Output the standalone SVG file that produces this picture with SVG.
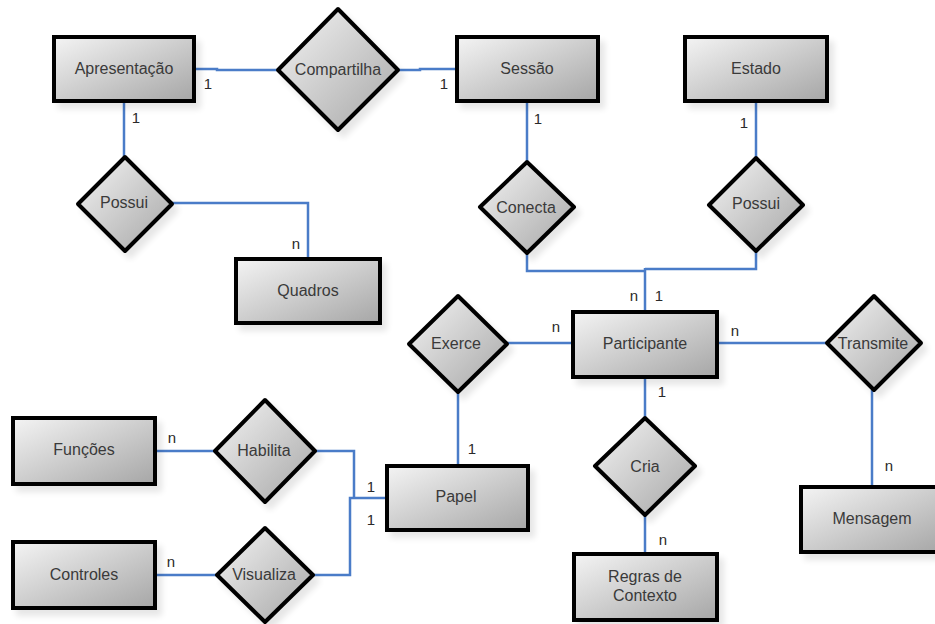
<svg xmlns="http://www.w3.org/2000/svg" width="935" height="624" viewBox="0 0 935 624">
<defs>
<linearGradient id="g" x1="0" y1="0" x2="1" y2="1">
<stop offset="0" stop-color="#f4f4f4"/>
<stop offset="1" stop-color="#a6a6a6"/>
</linearGradient>
<filter id="sh" x="-20%" y="-20%" width="150%" height="150%">
<feGaussianBlur in="SourceAlpha" stdDeviation="3"/>
<feOffset dx="5" dy="6" result="b"/>
<feComponentTransfer><feFuncA type="linear" slope="0.1"/></feComponentTransfer>
<feMerge><feMergeNode/><feMergeNode in="SourceGraphic"/></feMerge>
</filter>
</defs>
<style>
.e{fill:url(#g);stroke:#000;stroke-width:4;stroke-linejoin:round;filter:url(#sh)}
.r{fill:url(#g);stroke:#000;stroke-width:4;stroke-linejoin:miter;filter:url(#sh)}
.t{font-family:"Liberation Sans",Arial,sans-serif;font-size:16px;fill:#3a3a3a;text-anchor:middle}
.c{fill:none;stroke:#4a7cc8;stroke-width:2.5}
.l{font-family:"Liberation Sans",Arial,sans-serif;font-size:15px;fill:#2a2a2a;text-anchor:middle}
</style>
<rect width="935" height="624" fill="#fff"/>
<g id="connectors">
<polyline class="c" points="195,69 217,69 217,70 278,70"/>
<polyline class="c" points="398,70 420,70 420,69 457,69"/>
<line class="c" x1="124" y1="102" x2="124" y2="157"/>
<polyline class="c" points="172,203 308,203 308,258"/>
<line class="c" x1="527" y1="102" x2="527" y2="162"/>
<line class="c" x1="756" y1="102" x2="756" y2="158"/>
<polyline class="c" points="527,253 527,271 645,271"/>
<polyline class="c" points="756,251 756,269 645,269"/>
<line class="c" x1="645" y1="268" x2="645" y2="312"/>
<line class="c" x1="507" y1="343" x2="573" y2="343"/>
<line class="c" x1="717" y1="343" x2="827" y2="343"/>
<line class="c" x1="872" y1="390" x2="872" y2="487"/>
<line class="c" x1="645" y1="378" x2="645" y2="418"/>
<line class="c" x1="645" y1="515" x2="645" y2="554"/>
<line class="c" x1="458" y1="392" x2="458" y2="466"/>
<line class="c" x1="155" y1="451" x2="215" y2="451"/>
<line class="c" x1="155" y1="575" x2="217" y2="575"/>
<polyline class="c" points="315,451 354,451 354,498"/>
<polyline class="c" points="313,575 350,575 350,498 387,498"/>
</g>
<g id="labels">
<text class="l" x="208" y="89">1</text>
<text class="l" x="444" y="89">1</text>
<text class="l" x="136" y="123">1</text>
<text class="l" x="296" y="249">n</text>
<text class="l" x="538" y="124">1</text>
<text class="l" x="744" y="128">1</text>
<text class="l" x="634" y="301">n</text>
<text class="l" x="659" y="301">1</text>
<text class="l" x="556" y="332">n</text>
<text class="l" x="735" y="336">n</text>
<text class="l" x="662" y="397">1</text>
<text class="l" x="663" y="545">n</text>
<text class="l" x="889" y="471">n</text>
<text class="l" x="472" y="454">1</text>
<text class="l" x="172" y="443">n</text>
<text class="l" x="171" y="567">n</text>
<text class="l" x="371" y="492">1</text>
<text class="l" x="371" y="525">1</text>
</g>
<g id="apresentacao"><rect class="r" x="54" y="37" width="140" height="64"/><text class="t" x="124" y="74">Apresentação</text></g>
<g id="compartilha"><polygon class="e" points="338,9 398,70 338,130 278,70"/><text class="t" x="338" y="75">Compartilha</text></g>
<g id="sessao"><rect class="r" x="457" y="37" width="141" height="64"/><text class="t" x="527" y="74">Sessão</text></g>
<g id="estado"><rect class="r" x="685" y="37" width="142" height="64"/><text class="t" x="756" y="74">Estado</text></g>
<g id="possui1"><polygon class="e" points="125,157 172,204 125,251 78,204"/><text class="t" x="124" y="208">Possui</text></g>
<g id="quadros"><rect class="r" x="236" y="259" width="144" height="64"/><text class="t" x="308" y="296">Quadros</text></g>
<g id="conecta"><polygon class="e" points="527,162 574,207 527,253 480,207"/><text class="t" x="526" y="213">Conecta</text></g>
<g id="possui2"><polygon class="e" points="756,158 803,205 756,251 709,205"/><text class="t" x="756" y="209">Possui</text></g>
<g id="exerce"><polygon class="e" points="458,296 507,344 458,392 409,344"/><text class="t" x="456" y="349">Exerce</text></g>
<g id="participante"><rect class="r" x="573" y="312" width="144" height="65"/><text class="t" x="645" y="349">Participante</text></g>
<g id="transmite"><polygon class="e" points="874,296 921,343 874,390 827,343"/><text class="t" x="873" y="349">Transmite</text></g>
<g id="cria"><polygon class="e" points="645,418 695,466 645,515 595,466"/><text class="t" x="645" y="472">Cria</text></g>
<g id="mensagem"><rect class="r" x="801" y="487" width="142" height="65"/><text class="t" x="872" y="524">Mensagem</text></g>
<g id="regras"><rect class="r" x="574" y="554" width="143" height="66"/><text class="t" x="645" y="582">Regras de</text><text class="t" x="645" y="601">Contexto</text></g>
<g id="papel"><rect class="r" x="387" y="466" width="141" height="64"/><text class="t" x="456" y="502">Papel</text></g>
<g id="funcoes"><rect class="r" x="13" y="418" width="142" height="66"/><text class="t" x="84" y="455">Funções</text></g>
<g id="habilita"><polygon class="e" points="265,400 315,451 265,502 215,451"/><text class="t" x="264" y="456">Habilita</text></g>
<g id="controles"><rect class="r" x="13" y="542" width="142" height="66"/><text class="t" x="84" y="580">Controles</text></g>
<g id="visualiza"><polygon class="e" points="265,528 313,575 265,622 217,575"/><text class="t" x="264" y="580">Visualiza</text></g>
</svg>
